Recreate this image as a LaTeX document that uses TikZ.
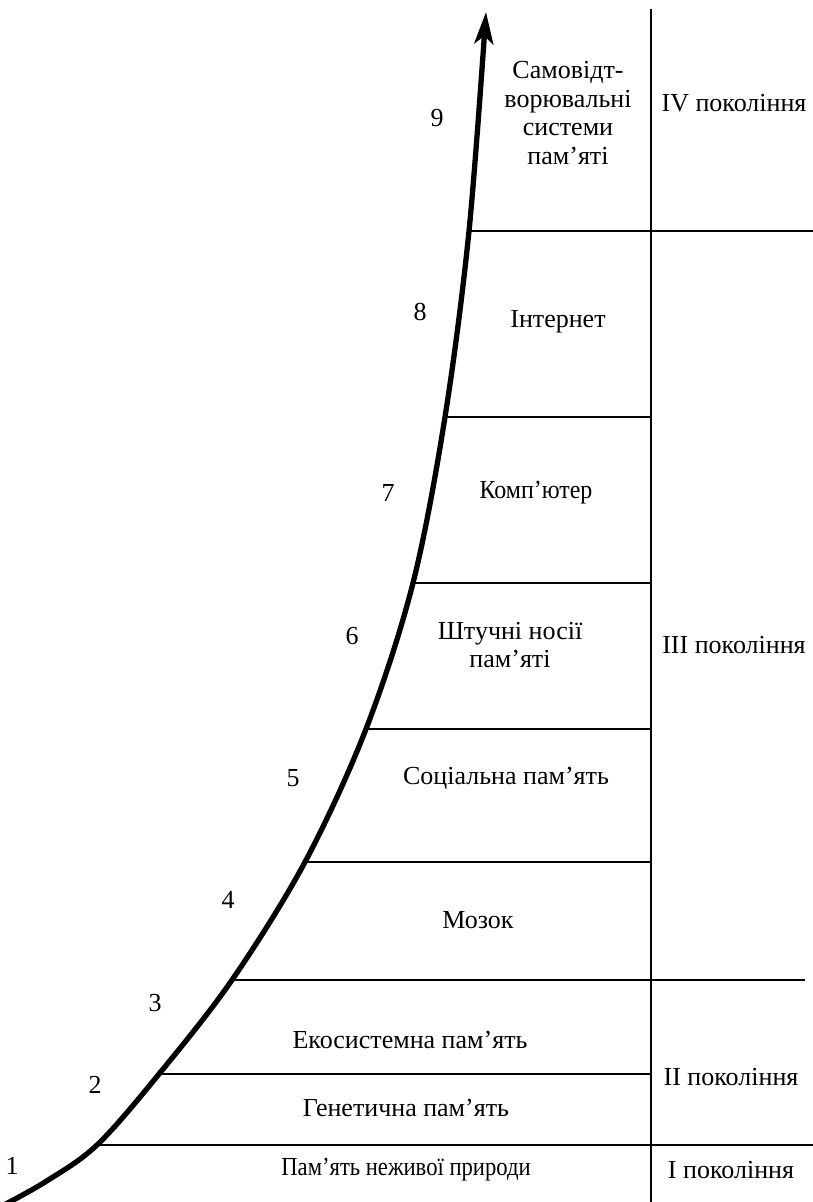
\documentclass[tikz,border=0pt]{standalone}
\usepackage{fontspec}
\setmainfont{Liberation Serif}
\usetikzlibrary{arrows.meta}
\tikzset{
  thin rule/.style={line width=2pt},
  growth/.style={line width=5.3pt, -{Stealth[length=32pt,width=19pt,inset=8pt]}},
  lbl/.style={inner sep=0pt, align=center, font=\fontsize{26}{28.5}\selectfont},
  num/.style={inner sep=0pt, font=\fontsize{26}{28}\selectfont}
}
\begin{document}
\begin{tikzpicture}[x=1pt,y=-1pt]
\useasboundingbox (0,0) rectangle (813,1202);

% points of the growth curve where the level boundaries meet it
\coordinate (s)  at (0,1207);
\coordinate (q)  at (45,1182);
\coordinate (p1) at (97,1145);
\coordinate (p2) at (159,1074);
\coordinate (p3) at (232,980);
\coordinate (p4) at (305,862);
\coordinate (p5) at (366,729);
\coordinate (p6) at (413,583);
\coordinate (p7) at (445,417);
\coordinate (p8) at (469,231);
\coordinate (tip) at (486,12);

% right-hand ends of the boundaries
\coordinate (e1) at (813,1145);
\coordinate (e2) at (651,1074);
\coordinate (e3) at (805,980);
\coordinate (e4) at (651,862);
\coordinate (e5) at (651,729);
\coordinate (e6) at (651,583);
\coordinate (e7) at (651,417);
\coordinate (e8) at (813,231);
\coordinate (vt) at (651,9);
\coordinate (vb) at (651,1202);

% column separator and level boundaries
\draw[thin rule] (vt) -- (vb);
\foreach \i in {1,...,8} \draw[thin rule] (p\i) -- (e\i);

% growth curve
\draw[growth] plot[smooth, tension=0.55] coordinates {(s) (q) (p1) (p2) (p3) (p4) (p5) (p6) (p7) (p8) (tip)};

% stage numbers
\node[num] (n1) at (12,1166) {1};
\node[num] (n2) at (95,1085) {2};
\node[num] (n3) at (155,1003) {3};
\node[num] (n4) at (228,900) {4};
\node[num] (n5) at (293,778) {5};
\node[num] (n6) at (352,636) {6};
\node[num] (n7) at (388,493) {7};
\node[num] (n8) at (420,312) {8};
\node[num] (n9) at (437,118) {9};

% stage names
\node[lbl] (t1) at (406,1170) {\scalebox{0.87}[1]{Пам’ять неживої природи}};
\node[lbl] (t2) at (406,1108) {Генетична пам’ять};
\node[lbl] (t3) at (410,1040) {Екосистемна пам’ять};
\node[lbl] (t4) at (478,920) {Мозок};
\node[lbl] (t5) at (506,778) {Соціальна пам’ять};
\node[lbl] (t6) at (510,645) {Штучні носії\\пам’яті};
\node[lbl] (t7) at (536,493) {\scalebox{0.92}[1]{Комп’ютер}};
\node[lbl] (t8) at (558,322) {Інтернет};
\node[lbl] (t9) at (568,113) {Самовідт-\\ворювальні\\системи\\пам’яті};

% generations
\node[lbl] (g1) at (731,1170) {I покоління};
\node[lbl] (g2) at (731,1077) {II покоління};
\node[lbl] (g3) at (734,645) {III покоління};
\node[lbl] (g4) at (734,103) {IV покоління};
\end{tikzpicture}
\end{document}
